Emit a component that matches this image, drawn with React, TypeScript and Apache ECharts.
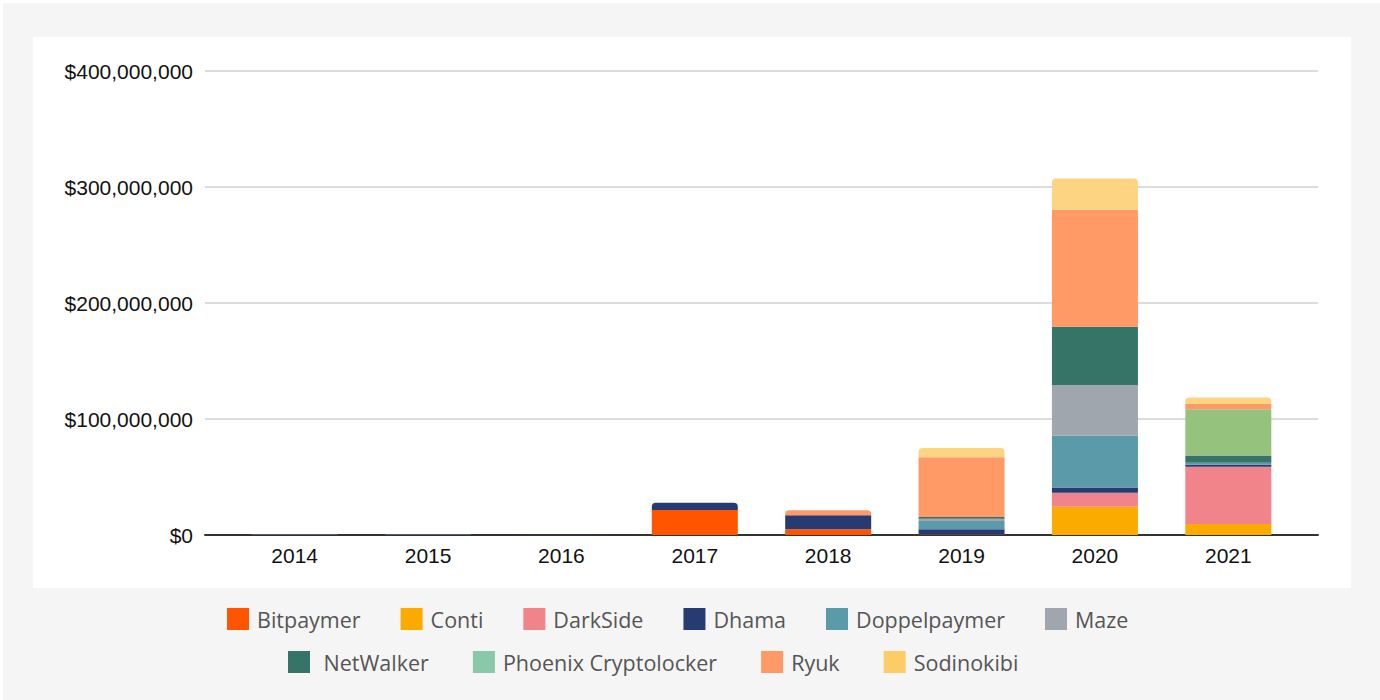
import React, { useEffect, useRef } from "react";
import * as echarts from "echarts";

const years = ["2014", "2015", "2016", "2017", "2018", "2019", "2020", "2021"];
// values in millions of USD
const bitpaymer = [0, 0, 0, 21.5, 5, 0.5, 0, 0];
const conti = [0, 0, 0, 0, 0, 0, 24.4, 9.5];
const darkSide = [0, 0, 0, 0, 0, 0, 12, 49.4];
const dhama = [0, 0, 0.4, 6.2, 12, 4.5, 4.6, 1.7];
const doppelpaymer = [0.4, 0.4, 0, 0, 0, 7, 44.5, 1.7];
const maze = [0, 0, 0, 0, 0, 2, 43.7, 0];
const netWalker = [0, 0, 0, 0, 0, 1.5, 50.3, 6.3];
const phoenix = [0, 0, 0, 0, 0, 0, 0, 39.7];
const ryuk = [0, 0, 0, 0, 4.3, 51.5, 100.9, 4.6];
const sodinokibi = [0, 0, 0, 0, 0, 8, 27, 5.7];
const yTicks = [0, 100, 200, 300, 400];

const seriesDefs = [
  { name: "Bitpaymer", data: bitpaymer, color: "#ff5500", legendColor: "#ff5500" },
  { name: "Conti", data: conti, color: "#fbab00", legendColor: "#fbab00" },
  { name: "DarkSide", data: darkSide, color: "#f0848a", legendColor: "#f0848a" },
  { name: "Dhama", data: dhama, color: "#283a72", legendColor: "#283a72" },
  { name: "Doppelpaymer", data: doppelpaymer, color: "#5b9aa8", legendColor: "#5b9aa8" },
  { name: "Maze", data: maze, color: "#a0a6ae", legendColor: "#a0a6ae" },
  { name: "NetWalker", data: netWalker, color: "#367467", legendColor: "#367467" },
  { name: "Phoenix Cryptolocker", data: phoenix, color: "#95c37d", legendColor: "#88c9a9" },
  { name: "Ryuk", data: ryuk, color: "#ff9966", legendColor: "#ff9966" },
  { name: "Sodinokibi", data: sodinokibi, color: "#fdd482", legendColor: "#fdcc66" },
];

export default function App() {
  const ref = useRef<HTMLDivElement>(null);
  useEffect(() => {
    document.body.style.margin = "0";
    const chart = echarts.init(ref.current!, undefined, { renderer: "svg" });
    const topIdx = years.map((_, i) => {
      let t = -1;
      seriesDefs.forEach((s, k) => {
        if (s.data[i] > 0) t = k;
      });
      return t;
    });
    const legendItem = (s: any) => ({ name: s.name, itemStyle: { color: s.legendColor } });
    const legendCommon = {
      icon: "rect",
      itemWidth: 22,
      itemHeight: 22,
      itemGap: 40,
      selectedMode: false,
      textStyle: { fontSize: 21.5, color: "#555", fontFamily: "Open Sans", padding: [0, 0, 0, 3] },
    };
    const labelFont = { color: "#111", fontSize: 21, fontFamily: "Liberation Sans" };
    chart.setOption({
      animation: false,
      graphic: [
        { type: "rect", z: -10, shape: { x: 3, y: 3, width: 1377, height: 697 }, style: { fill: "#f5f5f5" } },
        { type: "rect", z: -9, shape: { x: 33, y: 37, width: 1318, height: 551 }, style: { fill: "#ffffff" } },
      ],
      grid: [
        { left: 205, right: 62, top: 71, bottom: 165 },
        { left: 228, right: 85, top: 71, bottom: 165 },
      ],
      xAxis: [
        {
          type: "value",
          gridIndex: 0,
          min: 0,
          max: 1,
          axisLine: { show: true, lineStyle: { color: "#333", width: 2 } },
          axisTick: { show: false },
          axisLabel: { show: false },
          splitLine: { show: false },
        },
        {
          type: "category",
          gridIndex: 1,
          data: years,
          axisLine: { show: false },
          axisTick: { show: false },
          axisLabel: { ...labelFont, margin: 10 },
        },
      ],
      yAxis: [
        {
          type: "value",
          gridIndex: 0,
          min: yTicks[0],
          max: yTicks[yTicks.length - 1],
          interval: 100,
          axisLine: { show: false },
          axisTick: { show: false },
          axisLabel: {
            ...labelFont,
            margin: 12,
            formatter: (v: number) => "$" + (v * 1e6).toLocaleString("en-US"),
          },
          splitLine: { lineStyle: { color: "#d0d0d0", width: 1.5 } },
        },
        {
          type: "value",
          gridIndex: 1,
          min: yTicks[0],
          max: yTicks[yTicks.length - 1],
          show: false,
        },
      ],
      legend: [
        { ...legendCommon, left: 222, top: 603, data: seriesDefs.slice(0, 6).map(legendItem) },
        {
          ...legendCommon,
          left: 283,
          top: 646,
          itemGap: 44,
          formatter: (n: string) => (n === "NetWalker" ? " " + n : n),
          data: seriesDefs.slice(6).map(legendItem),
        },
      ],
      series: seriesDefs.map((s, k) => ({
        name: s.name,
        type: "bar",
        stack: "total",
        xAxisIndex: 1,
        yAxisIndex: 1,
        barWidth: 86,
        itemStyle: { color: s.color },
        data: s.data.map((v, i) => ({
          value: v,
          itemStyle: topIdx[i] === k ? { borderRadius: [4, 4, 0, 0] } : undefined,
        })),
      })),
    });
    return () => chart.dispose();
  }, []);
  return <div ref={ref} style={{ width: 1380, height: 700 }} />;
}
